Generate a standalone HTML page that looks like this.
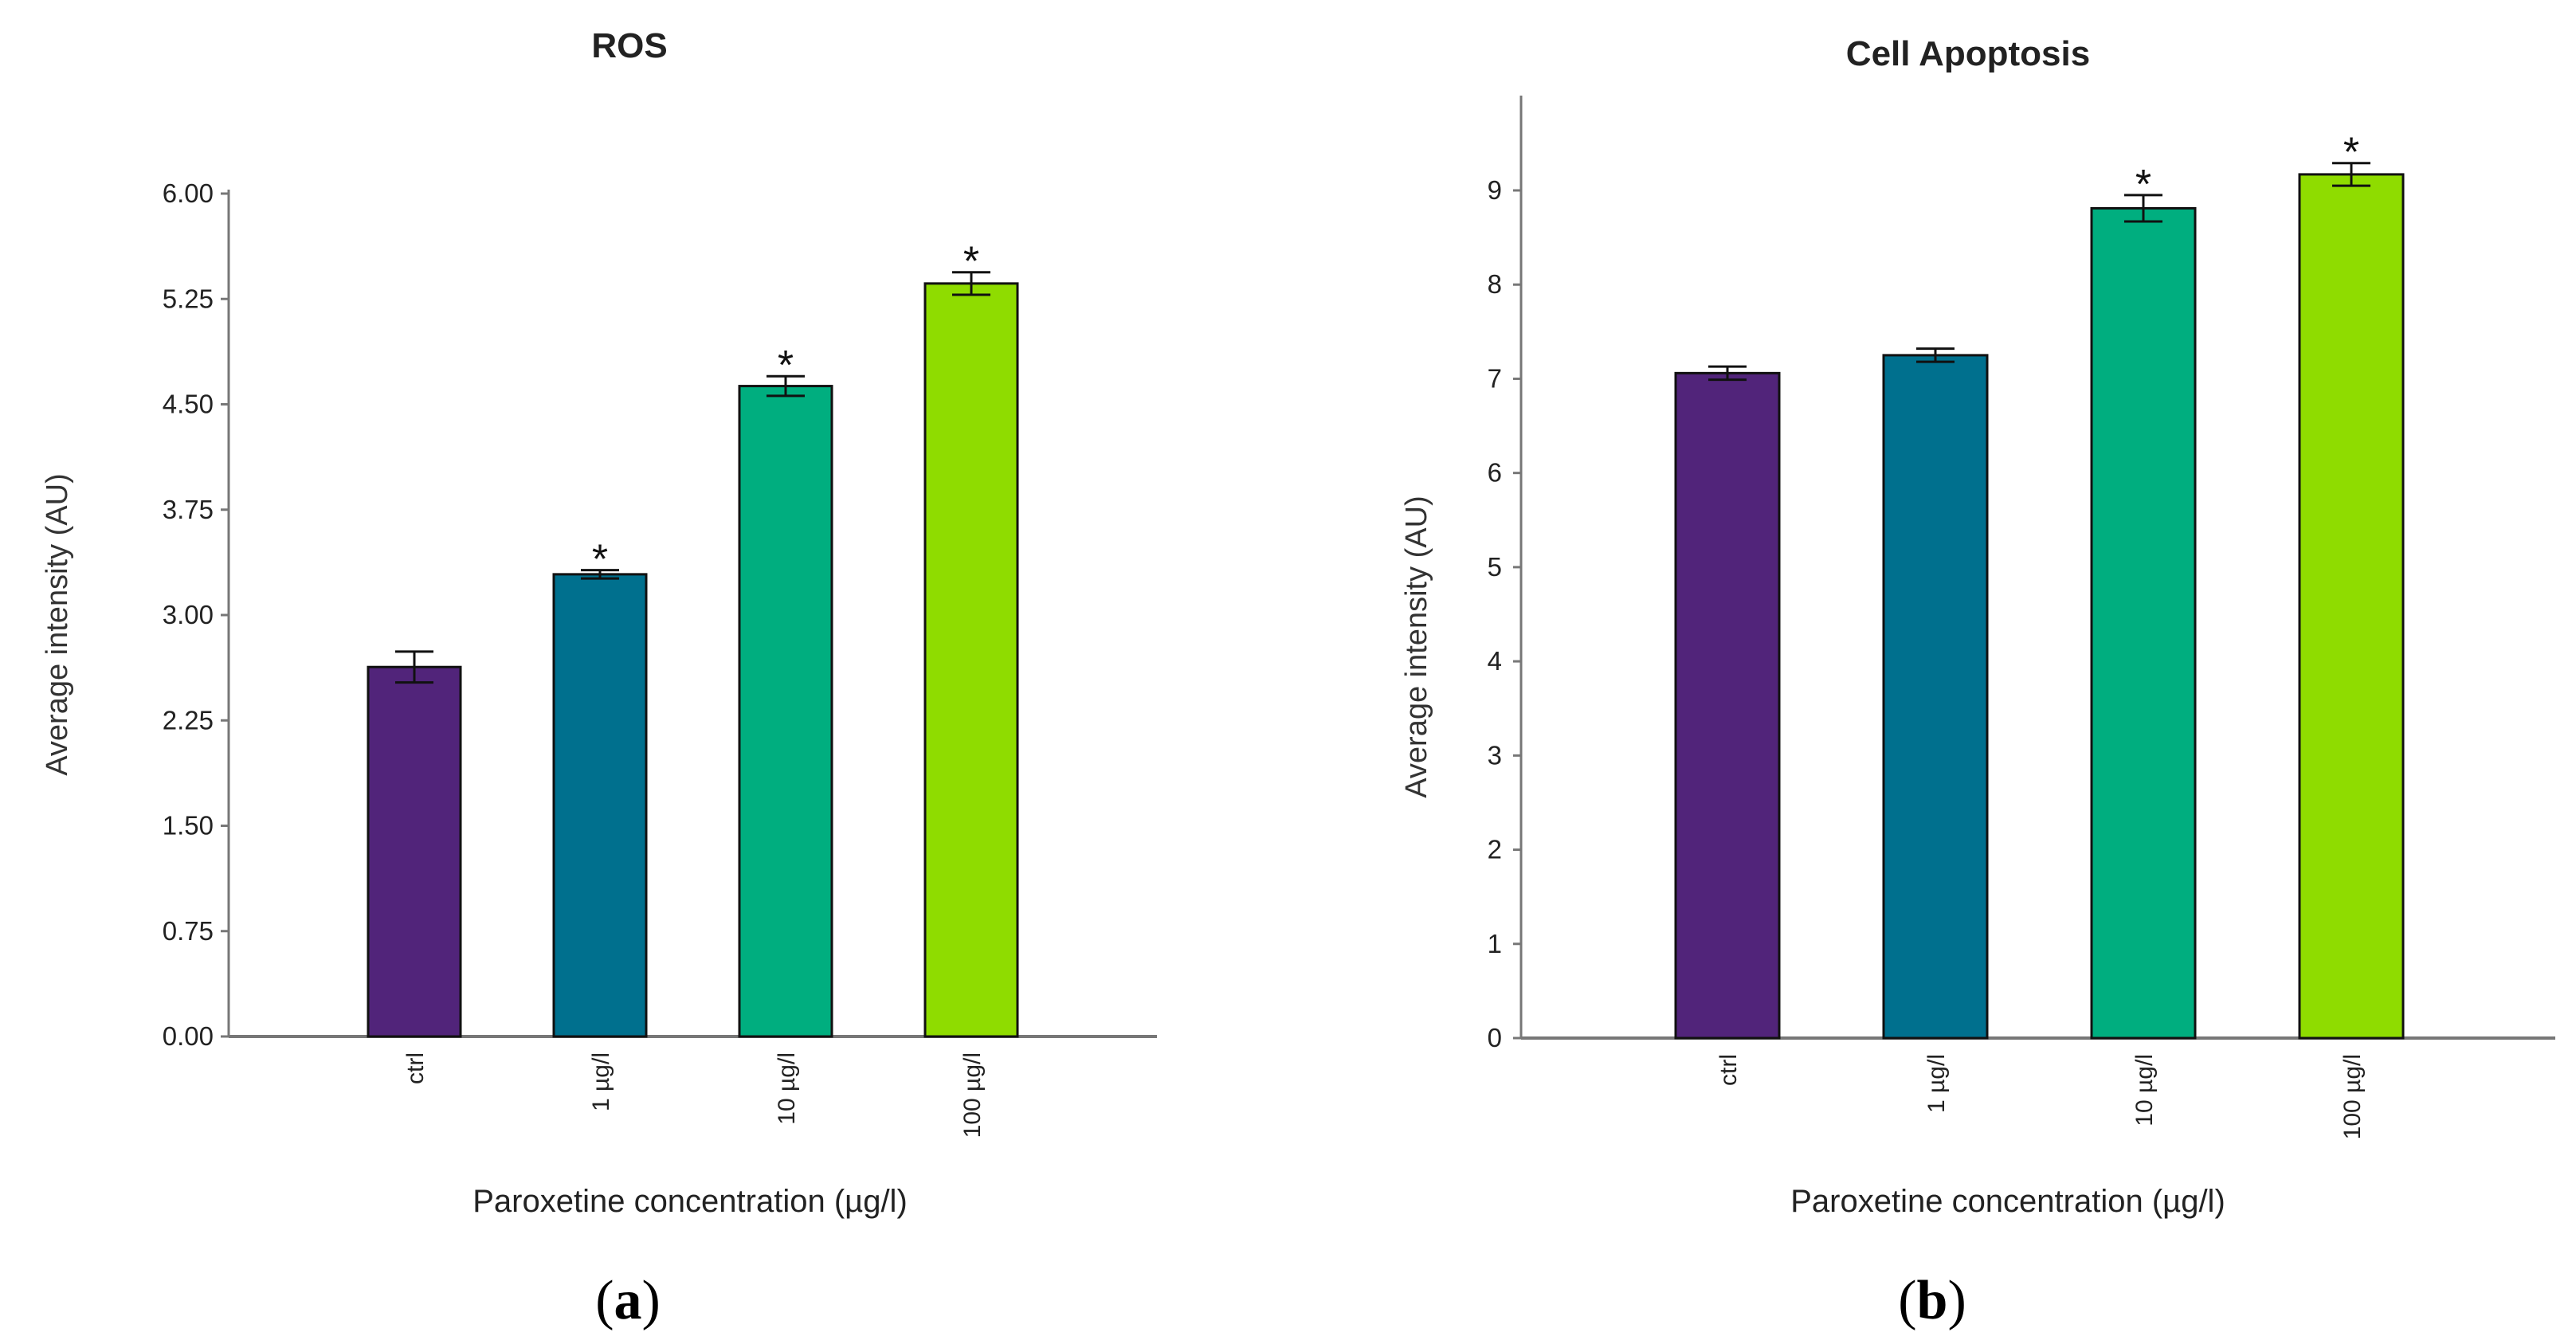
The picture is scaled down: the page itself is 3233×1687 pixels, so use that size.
<!DOCTYPE html>
<html><head><meta charset="utf-8">
<style>
html,body{margin:0;padding:0;background:#fff;}
svg{display:block;}
text{font-family:"Liberation Sans",sans-serif;}
</style></head>
<body>
<svg id="fig" width="3233" height="1687" viewBox="0 0 3233 1687" xmlns="http://www.w3.org/2000/svg">
<g id="pa"></g>
<g id="pb"></g>
</svg>
<script>
const categories = ["ctrl", "1 \u00b5g/l", "10 \u00b5g/l", "100 \u00b5g/l"];
const colors = ["#51247a", "#00708e", "#00ae7f", "#8fdc00"];
const rosValues = [2.63, 3.29, 4.63, 5.36];
const rosErrors = [0.11, 0.03, 0.07, 0.08];
const rosSig = [false, true, true, true];
const rosTicks = ["0.00","0.75","1.50","2.25","3.00","3.75","4.50","5.25","6.00"];
const apoValues = [7.06, 7.25, 8.81, 9.17];
const apoErrors = [0.07, 0.07, 0.14, 0.12];
const apoSig = [false, false, true, true];
const apoTicks = ["0","1","2","3","4","5","6","7","8","9"];

const NS = "http://www.w3.org/2000/svg";
function mk(parent, tag, attrs, txt){
  const e = document.createElementNS(NS, tag);
  for (const k in attrs) e.setAttribute(k, attrs[k]);
  if (txt !== undefined) e.textContent = txt;
  parent.appendChild(e);
  return e;
}

function drawPanel(g, cfg){
  const y = v => cfg.y0 - v / cfg.vmax * (cfg.y0 - cfg.yTop);
  const x = i => cfg.x0c + i * cfg.step;
  const ya = mk(g, "line", {x1:cfg.ax, y1:cfg.axTop, x2:cfg.ax, y2:cfg.y0+1, stroke:"#777", "stroke-width":3});
  
  
  const xa = mk(g, "line", {x1:cfg.ax, y1:cfg.y0, x2:cfg.axEnd, y2:cfg.y0, stroke:"#777", "stroke-width":4});
  
  
  cfg.ticks.forEach(t => {
    const v = parseFloat(t);
    const tk = mk(g, "line", {x1:cfg.ax-10, y1:y(v), x2:cfg.ax, y2:y(v), stroke:"#777", "stroke-width":3});
    
    
    const tl = mk(g, "text", {x:cfg.tickRight, y:y(v)+11, "text-anchor":"end", "font-size":cfg.tickFont, fill:"#222"}, t);
    
    
  });
  cfg.values.forEach((v, i) => {
    const cx = x(i);
    const b = mk(g, "rect", {x:cx-cfg.bw/2, y:y(v), width:cfg.bw, height:cfg.y0-y(v), fill:colors[i], stroke:"#111", "stroke-width":3});
    
    
    const e = cfg.errors[i];
    const eb = mk(g, "path", {d:`M${cx},${y(v+e)}V${y(v-e)}M${cx-24},${y(v+e)}H${cx+24}M${cx-24},${y(v-e)}H${cx+24}`, stroke:"#111", "stroke-width":3, fill:"none"});
    
    
    if (cfg.sig[i]) {
      const s = mk(g, "text", {x:cx, y:y(v+e)+4, "text-anchor":"middle", "font-size":52, fill:"#111"}, "*");
      
      
    }
    const lbl = mk(g, "text", {transform:`translate(${cx+11},${cfg.y0+20}) rotate(-90)`, "text-anchor":"end", "font-size":30, fill:"#222"}, categories[i]);
    
    
  });
  const tt = mk(g, "text", {x:cfg.titleX, y:cfg.titleY, "text-anchor":"middle", "font-size":44, "font-weight":"bold", fill:"#222"}, cfg.title);
  
  
  const yt = mk(g, "text", {transform:`translate(${cfg.ytX},${cfg.ytY}) rotate(-90)`, "text-anchor":"middle", "font-size":38, fill:"#333"}, "Average intensity (AU)");
  
  
  const xt = mk(g, "text", {x:cfg.xtX, y:1521, "text-anchor":"middle", "font-size":40, fill:"#222"}, "Paroxetine concentration (\u00b5g/l)");
  
  
  const pl = mk(g, "text", {x:cfg.plX, y:1655, "text-anchor":"middle", "font-size":70, style:"font-family:'Liberation Serif',serif", fill:"#000"}, "");
  
  
  mk(pl, "tspan", {}, "(");
  mk(pl, "tspan", {"font-weight":"bold"}, cfg.letter);
  mk(pl, "tspan", {}, ")");
}

drawPanel(document.getElementById("pa"), {
  y0:1301, yTop:243, vmax:6, ax:287, axTop:238, axEnd:1452,
  x0c:520, step:233, bw:116, ticks:rosTicks, values:rosValues, errors:rosErrors, sig:rosSig,
  tickFont:33, tickRight:268, title:"ROS", titleX:790, titleY:72, ytX:84, ytY:784,
  xtX:866, plX:788, letter:"a"
});
drawPanel(document.getElementById("pb"), {
  y0:1303, yTop:239, vmax:9, ax:1909, axTop:120, axEnd:3207,
  x0c:2168, step:261, bw:130, ticks:apoTicks, values:apoValues, errors:apoErrors, sig:apoSig,
  tickFont:33, tickRight:1885, title:"Cell Apoptosis", titleX:2470, titleY:82, ytX:1790, ytY:812,
  xtX:2520, plX:2425, letter:"b"
});
</script>
</body></html>
